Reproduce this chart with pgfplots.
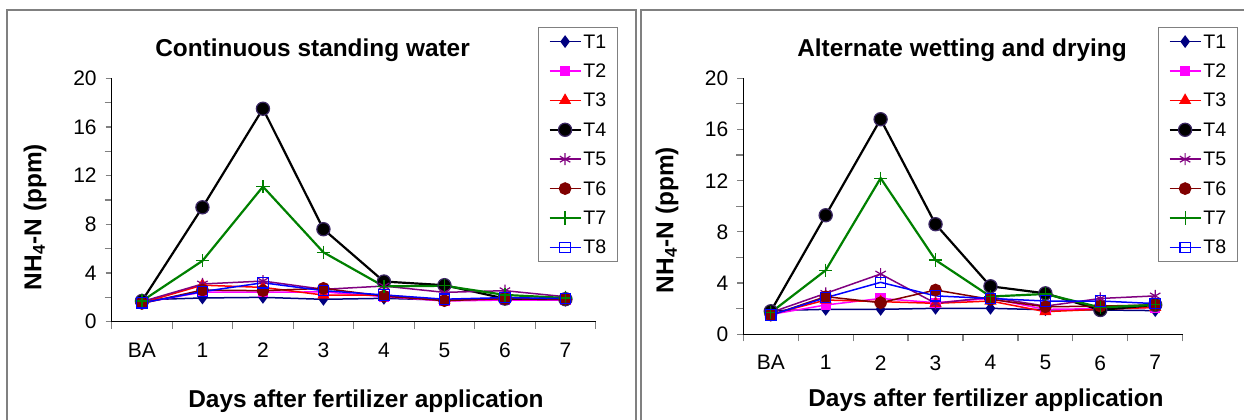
\documentclass[border=0pt]{standalone}
\usepackage{pgfplots}
\pgfplotsset{compat=1.18}
\usepackage{fontspec}
\setmainfont{Liberation Sans}
\usetikzlibrary{plotmarks}
\definecolor{cT1}{RGB}{0,0,128}
\definecolor{cT2}{RGB}{255,0,255}
\definecolor{cT3}{RGB}{255,0,0}
\definecolor{cT4}{RGB}{0,0,0}
\definecolor{cT4e}{RGB}{60,40,100}
\definecolor{cT5}{RGB}{128,0,128}
\definecolor{cT6}{RGB}{128,0,0}
\definecolor{cT7}{RGB}{0,128,0}
\definecolor{cT8}{RGB}{0,0,255}
\definecolor{frame}{RGB}{128,128,128}
\pgfplotsset{
  chartstyle/.style={
    scale only axis,
    anchor=south west,
    xmin=-0.5, xmax=7.5, ymin=0, ymax=20,
    axis x line*=bottom, axis y line*=left,
    axis line style={black, line width=0.6bp},
    xtick={0,...,7},
    xticklabels={BA,1,2,3,4,5,6,7},
    minor xtick={-0.5,0.5,...,7.5},
    ytick={0,4,...,20},
    minor ytick={2,6,...,18},
    tick align=outside,
    major x tick style={draw=none},
    every tick/.style={frame, line width=0.6bp},
    xtick style={frame},
    ytick style={frame},
    minor tick length=3.5bp,
    major tick length=3bp,
    minor y tick style={frame},
    tick label style={font=\fontsize{10.5bp}{12bp}\selectfont},
    /pgf/number format/assume math mode=true,
    xticklabel style={yshift=-4bp},
    yticklabel style={xshift=-1bp},
    clip=false,
    legend cell align=left,
    legend style={draw=frame, line width=0.5bp, anchor=north west,
      font=\fontsize{9.8bp}{10bp}\selectfont,
      inner xsep=5bp, inner ysep=2.5bp, row sep=5.6bp,
      nodes={inner sep=0.8bp, text height=7bp, text depth=0.5bp}},
    legend image code/.code={\draw[mark repeat=2,mark phase=2,##1] plot coordinates {(0bp,0bp) (7.75bp,0bp) (15.5bp,0bp)};},
  },
  sT1/.style={cT1, line width=0.75bp, mark=diamond*, mark size=2.6bp, mark options={fill=cT1, draw=cT1, solid}},
  sT2/.style={cT2, line width=0.75bp, mark=square*, mark size=2.2bp, mark options={fill=cT2, draw=cT2, solid}},
  sT3/.style={cT3, line width=0.75bp, mark=triangle*, mark size=2.8bp, mark options={fill=cT3, draw=cT3, solid}},
  sT4/.style={cT4, line width=1.1bp, mark=*, mark size=3.3bp, mark options={fill=black, draw=cT4e, line width=0.6bp, solid}},
  sT5/.style={cT5, line width=0.75bp, mark=asterisk, mark size=3bp, mark options={draw=cT5, line width=0.6bp, solid}},
  sT6/.style={cT6, line width=0.75bp, mark=*, mark size=2.8bp, mark options={fill=cT6, draw=cT6, solid}},
  sT7/.style={cT7, line width=1.1bp, mark=+, mark size=3.3bp, mark options={draw=cT7, line width=0.6bp, solid}},
  sT8/.style={cT8, line width=0.75bp, mark=square, mark size=2.6bp, mark options={fill=white, draw=cT8, line width=0.6bp, solid}},
}
\begin{document}
\begin{tikzpicture}
\useasboundingbox (0bp,0bp) rectangle (622bp,210bp);
% panel frames
\draw[frame, line width=0.8bp] (3.5bp,-5bp) -- (3.5bp,205bp) -- (318bp,205bp) -- (318bp,-5bp);
\draw[frame, line width=0.8bp] (320.5bp,-5bp) -- (320.5bp,205bp) -- (630bp,205bp);
% ---------------- left panel
\begin{axis}[chartstyle, at={(55.85bp,49.15bp)}, width=242bp, height=121.7bp,
  legend style={at={(0.8808,1.2108)}}]
\addplot[sT1] coordinates {(0,1.80) (1,1.95) (2,2.0) (3,1.84) (4,1.92) (5,1.78) (6,1.84) (7,1.76)};
\addplot[sT2] coordinates {(0,1.55) (1,2.43) (2,2.42) (3,2.45) (4,2.06) (5,1.70) (6,1.78) (7,1.78)};
\addplot[sT3] coordinates {(0,1.55) (1,3.00) (2,2.82) (3,2.19) (4,2.19) (5,1.78) (6,1.90) (7,1.85)};
\addplot[sT4] coordinates {(0,1.70) (1,9.40) (2,17.5) (3,7.60) (4,3.30) (5,3.00) (6,1.90) (7,1.85)};
\addplot[sT5] coordinates {(0,1.65) (1,3.10) (2,3.34) (3,2.66) (4,2.93) (5,2.41) (6,2.55) (7,2.05)};
\addplot[sT6] coordinates {(0,1.50) (1,2.60) (2,2.55) (3,2.74) (4,2.10) (5,1.73) (6,1.90) (7,1.85)};
\addplot[sT7] coordinates {(0,1.70) (1,5.00) (2,11.1) (3,5.70) (4,2.90) (5,2.95) (6,2.20) (7,1.95)};
\addplot[sT8] coordinates {(0,1.55) (1,2.47) (2,3.20) (3,2.55) (4,2.20) (5,1.85) (6,1.98) (7,1.90)};
\legend{T1,T2,T3,T4,T5,T6,T7,T8}
\end{axis}
% ---------------- right panel
\begin{axis}[chartstyle, at={(371.65bp,42.85bp)}, width=219.7bp, height=128bp,
  legend style={at={(0.9438,1.2004)}}]
\addplot[sT1] coordinates {(0,1.85) (1,1.95) (2,1.95) (3,2.03) (4,2.03) (5,1.92) (6,1.90) (7,1.85)};
\addplot[sT2] coordinates {(0,1.55) (1,2.29) (2,2.80) (3,2.47) (4,2.80) (5,1.95) (6,2.00) (7,2.10)};
\addplot[sT3] coordinates {(0,1.55) (1,2.68) (2,2.55) (3,2.42) (4,2.60) (5,1.77) (6,1.95) (7,2.10)};
\addplot[sT4] coordinates {(0,1.80) (1,9.30) (2,16.8) (3,8.60) (4,3.75) (5,3.20) (6,1.90) (7,2.30)};
\addplot[sT5] coordinates {(0,1.70) (1,3.20) (2,4.71) (3,2.42) (4,2.90) (5,2.20) (6,2.80) (7,3.00)};
\addplot[sT6] coordinates {(0,1.50) (1,2.94) (2,2.47) (3,3.46) (4,2.73) (5,2.15) (6,2.20) (7,2.30)};
\addplot[sT7] coordinates {(0,1.70) (1,5.00) (2,12.2) (3,5.80) (4,2.95) (5,3.15) (6,2.10) (7,2.30)};
\addplot[sT8] coordinates {(0,1.50) (1,2.86) (2,4.06) (3,3.00) (4,2.80) (5,2.60) (6,2.60) (7,2.40)};
\legend{T1,T2,T3,T4,T5,T6,T7,T8}
\end{axis}
% titles and labels
\node[font=\bfseries\fontsize{12.2bp}{14bp}\selectfont] at (156.25bp,185bp) {Continuous standing water};
\node[font=\bfseries\fontsize{12.2bp}{14bp}\selectfont] at (481bp,185bp) {Alternate wetting and drying};
\node[font=\bfseries\fontsize{12.2bp}{14bp}\selectfont] at (183bp,9.2bp) {Days after fertilizer application};
\node[font=\bfseries\fontsize{12.2bp}{14bp}\selectfont] at (493bp,10bp) {Days after fertilizer application};
\node[font=\bfseries\fontsize{12.2bp}{14bp}\selectfont, rotate=90] at (17.5bp,101.5bp) {NH\textsubscript{4}-N (ppm)};
\node[font=\bfseries\fontsize{12.2bp}{14bp}\selectfont, rotate=90] at (333.5bp,100bp) {NH\textsubscript{4}-N (ppm)};
\end{tikzpicture}
\end{document}
